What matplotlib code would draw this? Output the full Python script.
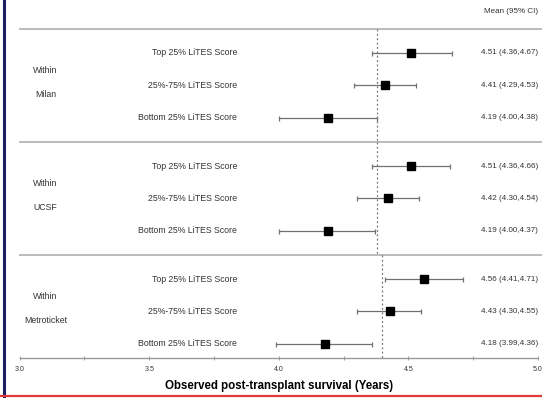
import numpy as np
import matplotlib
matplotlib.use("Agg")
import matplotlib.pyplot as plt
from matplotlib.lines import Line2D

plt.rcParams["font.family"] = ["Liberation Sans", "DejaVu Sans"]

# survival estimates by criteria and LiTES score tier
groups = ["Milan", "UCSF", "Metroticket"]
tiers = ["Top 25% LiTES Score", "25%-75% LiTES Score", "Bottom 25% LiTES Score"]
means = [[4.51, 4.41, 4.19],
         [4.51, 4.42, 4.19],
         [4.56, 4.43, 4.18]]
lower = [[4.36, 4.29, 4.00],
         [4.36, 4.30, 4.00],
         [4.41, 4.30, 3.99]]
upper = [[4.67, 4.53, 4.38],
         [4.66, 4.54, 4.37],
         [4.71, 4.55, 4.36]]
overall = [4.38, 4.38, 4.40]
xticks = [3.0, 3.5, 4.0, 4.5, 5.0]

group_step = 3.5
text_col = "#333333"

fig = plt.figure(figsize=(5.42, 3.98), dpi=100)
ax = fig.add_axes([0.036, 0.1005, 0.9567, 0.8995])

for g, name in enumerate(groups):
    rows = g * group_step + np.arange(3)
    m = np.array(means[g])
    lo = np.array(lower[g])
    hi = np.array(upper[g])
    ax.errorbar(m, rows, xerr=[m - lo, hi - m], fmt="s", color="black",
                ms=5.8, ecolor="#707070", elinewidth=0.9, capsize=1.8,
                capthick=0.9, zorder=3)
    # reference line for the group
    ax.plot([overall[g], overall[g]], [rows[0] - 0.75, rows[-1] + 0.75],
            color="#777777", lw=0.9, ls=(0, (1.5, 2)), zorder=1)
    for r, tier, mv, l, h in zip(rows, tiers, m, lo, hi):
        ax.text(3.84, r, tier, ha="right", va="center", fontsize=6.3,
                color=text_col)
        ax.text(4.78, r, f"{mv:.2f} ({l:.2f},{h:.2f})", ha="left",
                va="center", fontsize=5.8, color=text_col, clip_on=False)
    center = rows[1]
    ax.text(3.10, center - 0.47, "Within", ha="center", va="center",
            fontsize=6.3, color=text_col)
    ax.text(3.10, center + 0.29, name, ha="center", va="center",
            fontsize=6.3, color=text_col)
    ax.axhline(rows[0] - 0.75, xmin=0.0, xmax=1.1, color="#bbbbbb",
               lw=1.4, clip_on=False, zorder=0)

ax.text(4.79, -1.27, "Mean (95% CI)", ha="left", va="center", fontsize=5.8,
        color=text_col, clip_on=False)

ax.set_xlim(3.0, 5.0)
ax.set_ylim(9.44, -1.64)
ax.set_yticks([])
for side in ["top", "right", "left"]:
    ax.spines[side].set_visible(False)
ax.spines["bottom"].set_color("#999999")
ax.spines["bottom"].set_linewidth(1.0)
ax.set_xticks(xticks)
ax.set_xticks(np.arange(3.25, 5.0, 0.5), minor=True)
ax.tick_params(axis="x", which="both", direction="inout", length=3,
               width=0.7, color="#999999", labelsize=5, labelcolor=text_col,
               pad=4)
ax.set_xlabel("Observed post-transplant survival (Years)", fontsize=8.3,
              fontweight="bold", color="black", labelpad=5)

# frame edges
fig.add_artist(Line2D([0.0074, 0.0074], [0, 1], transform=fig.transFigure,
                      color="#1c1f66", lw=2.2))
fig.add_artist(Line2D([0, 1], [0.0045, 0.0045], transform=fig.transFigure,
                      color="#e23b3b", lw=1.6))

fig.savefig("out.png", dpi=100)
